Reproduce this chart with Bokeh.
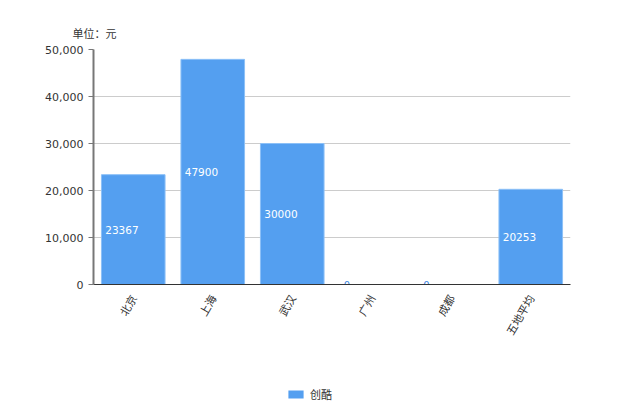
import math
from bokeh.plotting import figure
from bokeh.layouts import column
from bokeh.models import ColumnDataSource, Legend, LegendItem, NumeralTickFormatter, FixedTicker, Range1d
from bokeh.core.properties import value
from bokeh.embed import file_html
from bokeh.resources import INLINE

categories = ["北京", "上海", "武汉", "广州", "成都", "五地平均"]
values = [23367, 47900, 30000, 0, 0, 20253]
series_name = "创酷"
y_ticks = [0, 10000, 20000, 30000, 40000, 50000]
unit_label = "单位：元"

FONT = "Noto Sans CJK SC"
NUM = "DejaVu Sans"
BAR = "#549ff0"
EDGE = "#8cc0f7"

p = figure(x_range=categories, y_range=(0, 50000), width=612, height=350,
           output_backend="svg", toolbar_location=None,
           min_border_left=93, min_border_right=42, min_border_top=49, min_border_bottom=66)
p.outline_line_color = None
p.background_fill_color = "white"
p.border_fill_color = "white"

p.title.text = unit_label
p.title.text_font = FONT
p.title.text_font_size = "11px"
p.title.text_font_style = "normal"
p.title.text_color = "#333333"
p.title.align = "left"
p.title.offset = -21
p.title.standoff = 18

src = ColumnDataSource(dict(
    x=categories,
    top=values,
    mid=[v / 2 for v in values],
    lab=[str(v) for v in values],
    col=["white" if v != 0 else "#3d85e0" for v in values],
    size=["10.5px" if v != 0 else "10px" for v in values],
))
bars = p.vbar(x="x", top="top", width=0.8, source=src, fill_color=BAR,
              line_color=EDGE, line_width=1)
p.text(x="x", y="mid", text="lab", source=src, x_offset=-28, text_align="left",
       text_baseline="middle", text_color="col", text_font=value(NUM),
       text_font_size="size")

p.xgrid.grid_line_color = None
p.ygrid.grid_line_color = "#cccccc"
p.ygrid.grid_line_width = 1
p.yaxis.ticker = FixedTicker(ticks=y_ticks)
p.yaxis.formatter = NumeralTickFormatter(format="0,0")
p.yaxis.axis_line_color = "#777777"
p.yaxis.axis_line_width = 2
p.yaxis.major_tick_line_color = "#777777"
p.yaxis.major_tick_out = 5
p.yaxis.major_tick_in = 0
p.yaxis.minor_tick_line_color = None
p.yaxis.major_label_text_font = NUM
p.yaxis.major_label_text_font_size = "11px"
p.yaxis.major_label_text_color = "#333333"

p.xaxis.axis_line_color = "#333333"
p.xaxis.major_tick_line_color = None
p.xaxis.major_label_orientation = math.pi / 3
p.xaxis.major_label_text_font = FONT
p.xaxis.major_label_text_font_size = "11px"
p.xaxis.major_label_text_color = "#333333"
p.xaxis.major_label_standoff = 5

# legend strip
lg = figure(width=612, height=63, output_backend="svg", toolbar_location=None,
            x_axis_type=None, y_axis_type=None, x_range=Range1d(0, 1), y_range=Range1d(0, 1),
            min_border=0)
lg.outline_line_color = None
lg.grid.visible = False
dummy = lg.vbar(x=[0.5], top=[0.5], bottom=[0.5], width=0, fill_color=BAR, line_color=None)
legend = Legend(items=[LegendItem(label=series_name, renderers=[dummy])],
                location=(193, 11), orientation="horizontal",
                label_text_font=FONT, label_text_font_size="11px",
                label_text_color="#333333", glyph_width=19, glyph_height=10,
                border_line_color=None, background_fill_alpha=0,
                padding=2, margin=0, label_standoff=5)
lg.add_layout(legend, "center")

open("out.html", "w").write(file_html(column(p, lg), INLINE))
